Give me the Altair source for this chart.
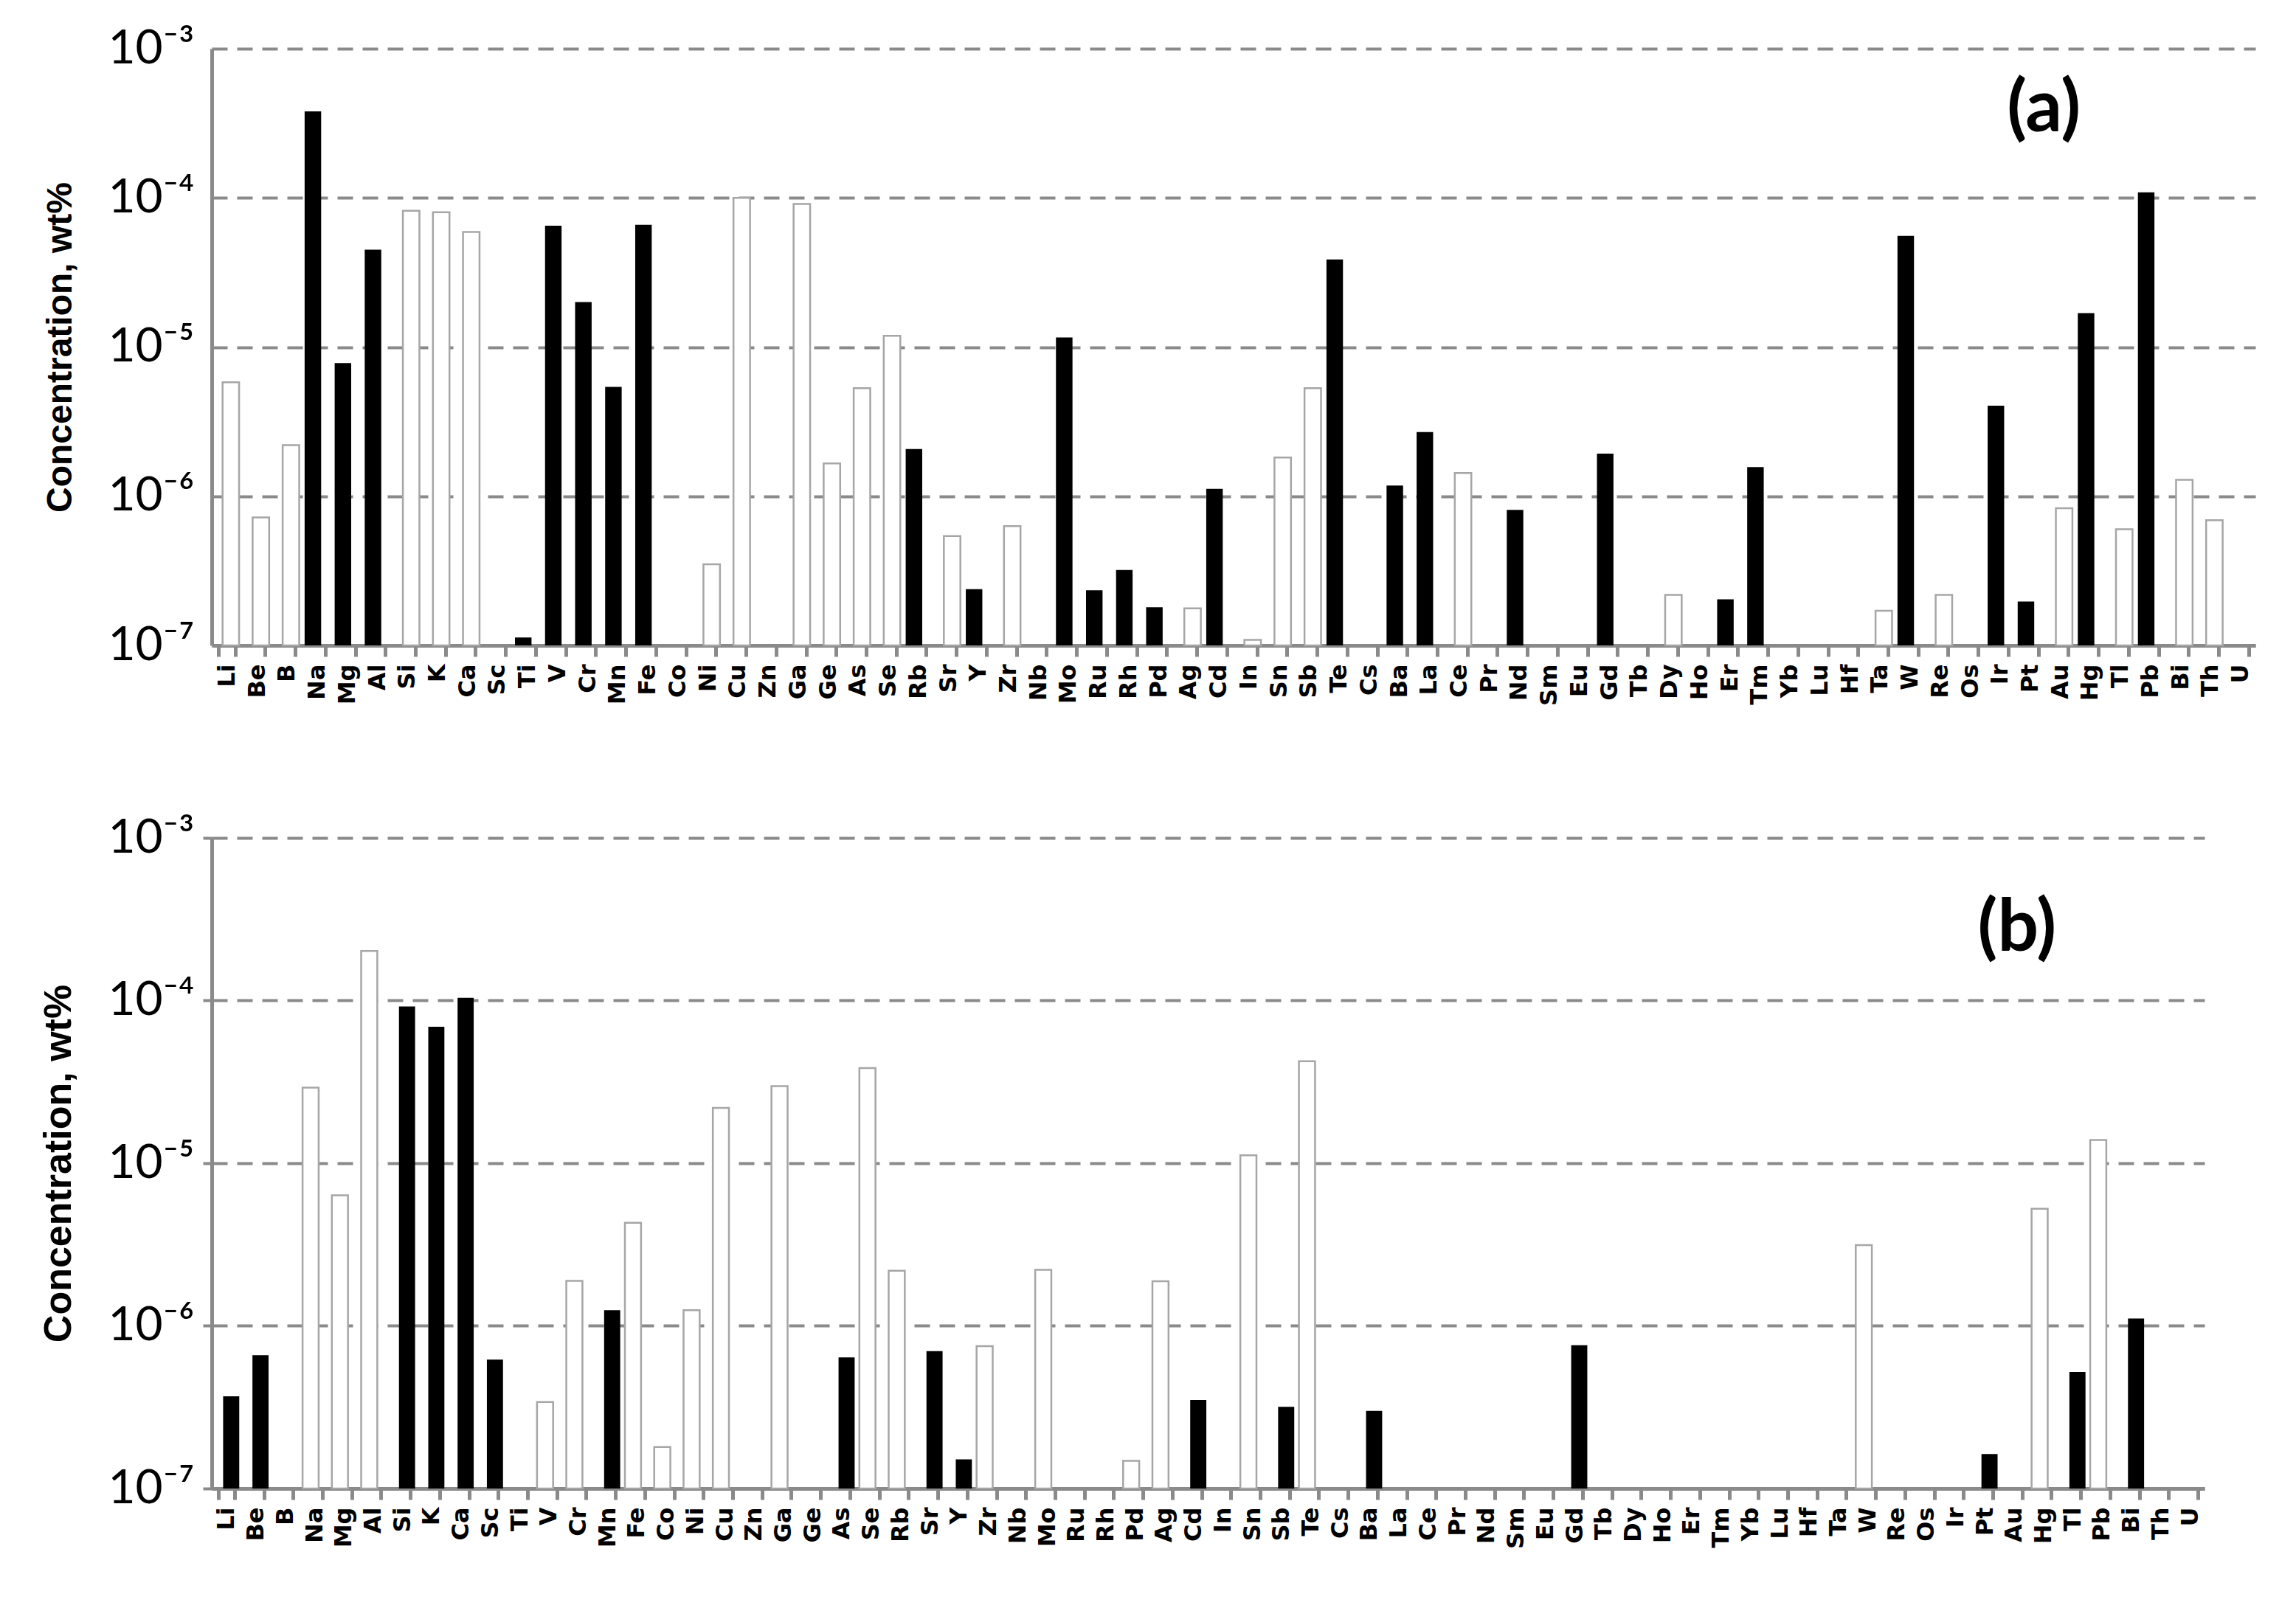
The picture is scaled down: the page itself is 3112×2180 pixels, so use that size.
import altair as alt
import pandas as pd

elements = ["Li","Be","B","Na","Mg","Al","Si","K","Ca","Sc","Ti","V","Cr","Mn","Fe","Co","Ni","Cu","Zn","Ga",
            "Ge","As","Se","Rb","Sr","Y","Zr","Nb","Mo","Ru","Rh","Pd","Ag","Cd","In","Sn","Sb","Te","Cs","Ba",
            "La","Ce","Pr","Nd","Sm","Eu","Gd","Tb","Dy","Ho","Er","Tm","Yb","Lu","Hf","Ta","W","Re","Os","Ir",
            "Pt","Au","Hg","Tl","Pb","Bi","Th","U"]

# panel (a): concentration (wt%) and bar type ('b' = black, 'w' = white); None = no bar
a_values = [5.8e-6, 7.2e-7, 2.2e-6, 3.8e-4, 7.8e-6, 4.5e-5, 8.2e-5, 8.0e-5, 5.9e-5, None,
            1.13e-7, 6.5e-5, 2.0e-5, 5.4e-6, 6.6e-5, None, 3.5e-7, 1.0e-4, None, 9.1e-5,
            1.66e-6, 5.3e-6, 1.19e-5, 2.07e-6, 5.4e-7, 2.38e-7, 6.3e-7, None, 1.16e-5, 2.34e-7,
            3.2e-7, 1.8e-7, 1.77e-7, 1.12e-6, 1.09e-7, 1.82e-6, 5.3e-6, 3.87e-5, None, 1.18e-6,
            2.69e-6, 1.43e-6, None, 8.1e-7, None, None, 1.93e-6, None, 2.18e-7, None,
            2.04e-7, 1.57e-6, None, None, None, 1.71e-7, 5.56e-5, 2.18e-7, None, 4.04e-6,
            1.97e-7, 8.3e-7, 1.69e-5, 6.0e-7, 1.09e-4, 1.29e-6, 6.9e-7, None]
a_types = ["w","w","w","b","b","b","w","w","w","",
           "b","b","b","b","b","","w","w","","w",
           "w","w","w","b","w","b","w","","b","b",
           "b","b","w","b","w","w","w","b","","b",
           "b","w","","b","","","b","","w","",
           "b","b","","","","w","b","w","","b",
           "b","w","b","w","b","w","w",""]

# panel (b)
b_values = [3.69e-7, 6.6e-7, None, 2.92e-5, 6.35e-6, 2.02e-4, 9.2e-5, 6.9e-5, 1.04e-4, 6.2e-7,
            None, 3.4e-7, 1.89e-6, 1.25e-6, 4.3e-6, 1.8e-7, 1.25e-6, 2.19e-5, None, 2.98e-5,
            None, 6.4e-7, 3.85e-5, 2.18e-6, 7.0e-7, 1.51e-7, 7.5e-7, None, 2.21e-6, None,
            None, 1.48e-7, 1.88e-6, 3.5e-7, None, 1.12e-5, 3.18e-7, 4.24e-5, None, 3.0e-7,
            None, None, None, None, None, None, 7.6e-7, None, None, None,
            None, None, None, None, None, None, 3.14e-6, None, None, None,
            1.63e-7, None, 5.25e-6, 5.2e-7, 1.39e-5, 1.11e-6, None, None]
b_types = ["b","b","","w","w","w","b","b","b","b",
           "","w","w","b","w","w","w","w","","w",
           "","b","w","w","b","b","w","","w","",
           "","w","w","b","","w","b","w","","b",
           "","","","","","","b","","","",
           "","","","","","","w","","","",
           "b","","w","b","w","b","",""]

exponents = [-7, -6, -5, -4, -3]
tick_values = [10.0 ** e for e in exponents]

GRAY = "#8a8a8a"
SUP = "['⁰','¹','²','³','⁴','⁵','⁶','⁷','⁸','⁹']"


def panel(values, types, width, height, title_size, ytick, tag, tag_el, tag_val, tag_dx,
          black_off, white_off):
    df = pd.DataFrame({"element": elements, "value": values, "type": types})
    x = alt.X("element:N", sort=elements,
              scale=alt.Scale(domain=elements, paddingInner=0.45, paddingOuter=0.225),
              axis=alt.Axis(title=None, labelAngle=-90, labelFont="DejaVu Sans",
                            labelFontWeight="bold", labelFontSize=32, labelColor="black",
                            labelPadding=10, tickBand="extent", tickSize=15, tickWidth=5,
                            tickColor=GRAY, domainColor=GRAY, domainWidth=5, grid=False))
    y = alt.Y("value:Q",
              scale=alt.Scale(type="log", domain=[tick_values[0], tick_values[-1]]),
              axis=alt.Axis(title="Concentration, wt%", titleFont="Liberation Sans",
                            titleFontWeight="bold", titleFontSize=title_size,
                            titleColor="black", titlePadding=40,
                            values=tick_values,
                            labelExpr="'10⁻' + " + SUP + "[round(-log(datum.value)/LN10)]",
                            labelFont="Lato", labelFontSize=64, labelColor="black",
                            labelPadding=12 + 12 - ytick, tickSize=ytick, tickWidth=4,
                            tickColor=GRAY, domainColor=GRAY, domainWidth=5,
                            grid=True, gridColor=GRAY, gridWidth=4, gridDash=[21, 13]))
    base = alt.Chart(df)
    black = base.transform_filter("datum.type == 'b' && isValid(datum.value)").mark_bar(
        color="black", xOffset=black_off).encode(x=x, y=y, y2=alt.datum(1e-7))
    white = base.transform_filter("datum.type == 'w' && isValid(datum.value)").mark_bar(
        fill="white", stroke="#a6a6a6", strokeWidth=2.5, xOffset=white_off).encode(
        x=x, y=y, y2=alt.datum(1e-7))
    tagdf = pd.DataFrame({"element": [tag_el], "value": [tag_val], "t": [tag]})
    text = alt.Chart(tagdf).mark_text(font="Lato", fontWeight="bold", fontSize=98,
                                      color="black", dx=tag_dx, baseline="middle").encode(
        x=x, y=y, text="t:N")
    return alt.layer(black, white, text).properties(width=width, height=height)


pa = panel(a_values, a_types, 2770, 809, 48, 0, "(a)", "Au", 3.9e-4, -22, -5.5, 5.5)
pb = panel(b_values, b_types, 2701, 882, 52, 12, "(b)", "Au", 2.75e-4, 4, 6.5, -5.0)

chart = alt.vconcat(pa, pb, spacing=147).properties(
    padding={"left": 45, "top": 26, "right": 5, "bottom": 5}
).configure_view(stroke=None)

chart.save("out.html", embed_options={"renderer": "svg", "actions": False})
